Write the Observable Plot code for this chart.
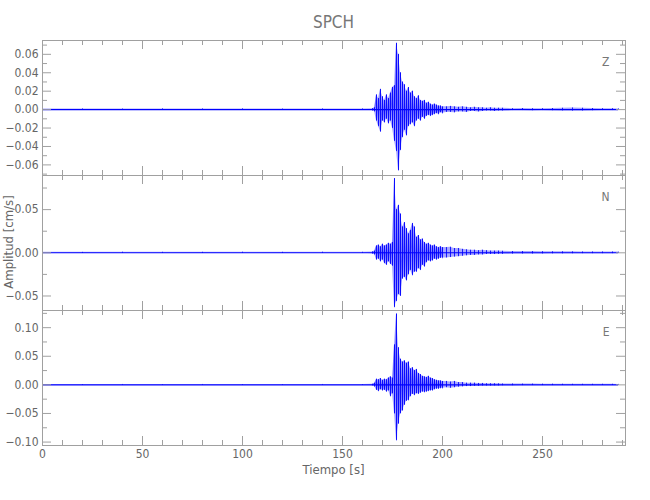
<!DOCTYPE html>
<html><head><meta charset="utf-8">
<script src="https://cdn.jsdelivr.net/npm/d3@7"></script>
<script src="https://cdn.jsdelivr.net/npm/@observablehq/plot@0.6"></script>
<style>
body{margin:0;background:#fff;}
#chart{position:relative;width:650px;height:500px;font-family:"Liberation Sans Narrow","DejaVu Sans Condensed",sans-serif;color:#666;}
.panel{position:absolute;left:0;}
#title{position:absolute;top:12px;left:42px;width:583px;text-align:center;font-size:17px;color:#777;}
#xlabel{position:absolute;top:462px;left:42px;width:583px;text-align:center;font-size:13px;}
#ylabel{position:absolute;left:8px;top:242px;transform:translate(-50%,-50%) rotate(-90deg);font-size:13px;white-space:nowrap;}
</style></head>
<body>
<div id="chart">
  <div id="title">SPCH</div>
  <div id="ylabel">Amplitud [cm/s]</div>
  <div id="xlabel">Tiempo [s]</div>
</div>
<script>
// Sample times (s) of the envelope peaks
const T = [0,20,40,60,80,100,120,140,160,
  165,166,167,168,169,170,171,172,173,174,175,176,177,178,179,180,181,182,183,184,185,186,187,188,189,190,191,192,193,194,195,196,197,198,199,200,
  202,204,206,208,210,212,214,216,218,220,222,224,226,228,230,
  235,240,245,250,255,260,265,270,275,280,285,288];

// Z component: positive / negative peaks (cm/s)
const zMax = [0.0006,0.0007,0.0006,0.0008,0.0007,0.0008,0.0006,0.0007,0.0007,
  0.001,0.002,0.016,0.012,0.022,0.014,0.010,0.016,0.012,0.018,0.024,0.026,0.072,0.060,0.040,0.030,0.027,0.020,0.024,0.018,0.020,0.014,0.012,0.015,0.010,0.009,0.010,0.007,0.008,0.006,0.005,0.006,0.005,0.004,0.004,0.003,
  0.003,0.0035,0.003,0.0025,0.003,0.0025,0.002,0.0025,0.002,0.002,0.0015,0.002,0.0015,0.0015,0.0015,
  0.001,0.0012,0.001,0.001,0.0012,0.0015,0.0018,0.0015,0.0012,0.001,0.001,0.0008];
const zMin = [-0.0006,-0.0006,-0.0007,-0.0007,-0.0006,-0.0008,-0.0007,-0.0006,-0.0007,
  -0.001,-0.002,-0.012,-0.018,-0.024,-0.012,-0.014,-0.010,-0.015,-0.012,-0.020,-0.034,-0.045,-0.066,-0.044,-0.030,-0.022,-0.028,-0.018,-0.016,-0.014,-0.018,-0.012,-0.010,-0.012,-0.008,-0.010,-0.007,-0.006,-0.007,-0.006,-0.005,-0.004,-0.005,-0.003,-0.004,
  -0.003,-0.003,-0.0035,-0.0025,-0.0025,-0.003,-0.002,-0.002,-0.0025,-0.002,-0.0015,-0.0015,-0.002,-0.0015,-0.0015,
  -0.001,-0.001,-0.0012,-0.001,-0.0012,-0.0014,-0.0016,-0.0015,-0.0012,-0.001,-0.001,-0.0008];

// N component
const nMax = [0.0006,0.0005,0.0007,0.0006,0.0006,0.0007,0.0006,0.0007,0.0006,
  0.001,0.002,0.008,0.009,0.007,0.010,0.008,0.009,0.011,0.010,0.012,0.086,0.050,0.055,0.045,0.030,0.035,0.028,0.022,0.026,0.034,0.030,0.018,0.020,0.015,0.016,0.012,0.010,0.011,0.009,0.008,0.009,0.007,0.006,0.007,0.006,
  0.006,0.0065,0.005,0.005,0.004,0.0035,0.003,0.003,0.0025,0.003,0.0025,0.002,0.002,0.002,0.0018,
  0.0015,0.0015,0.0014,0.0013,0.0012,0.0012,0.0011,0.001,0.001,0.001,0.001,0.0008];
const nMin = [-0.0006,-0.0007,-0.0006,-0.0006,-0.0007,-0.0006,-0.0007,-0.0006,-0.0006,
  -0.001,-0.002,-0.008,-0.007,-0.010,-0.008,-0.012,-0.014,-0.010,-0.013,-0.015,-0.063,-0.056,-0.048,-0.050,-0.030,-0.028,-0.032,-0.025,-0.020,-0.026,-0.022,-0.022,-0.018,-0.020,-0.014,-0.016,-0.011,-0.009,-0.010,-0.009,-0.007,-0.008,-0.007,-0.006,-0.006,
  -0.006,-0.0055,-0.005,-0.0045,-0.004,-0.0035,-0.003,-0.003,-0.0025,-0.0025,-0.002,-0.002,-0.002,-0.0018,-0.0018,
  -0.0015,-0.0014,-0.0014,-0.0013,-0.0012,-0.0012,-0.0011,-0.001,-0.001,-0.001,-0.001,-0.0008];

// E component
const eMax = [0.0006,0.0006,0.0007,0.0006,0.0007,0.0006,0.0006,0.0007,0.0006,
  0.001,0.003,0.010,0.009,0.011,0.008,0.010,0.009,0.012,0.014,0.012,0.070,0.124,0.065,0.045,0.040,0.042,0.038,0.040,0.028,0.030,0.025,0.027,0.020,0.018,0.015,0.014,0.013,0.015,0.012,0.011,0.009,0.008,0.007,0.007,0.006,
  0.006,0.005,0.006,0.004,0.004,0.003,0.003,0.003,0.0025,0.0025,0.002,0.002,0.002,0.0018,0.0015,
  0.0015,0.0013,0.0013,0.0012,0.0012,0.0011,0.001,0.001,0.001,0.001,0.001,0.0008];
const eMin = [-0.0006,-0.0007,-0.0006,-0.0006,-0.0006,-0.0007,-0.0006,-0.0006,-0.0007,
  -0.001,-0.003,-0.009,-0.011,-0.008,-0.010,-0.009,-0.012,-0.010,-0.020,-0.015,-0.050,-0.097,-0.068,-0.050,-0.045,-0.035,-0.028,-0.027,-0.020,-0.016,-0.018,-0.015,-0.016,-0.014,-0.012,-0.013,-0.012,-0.011,-0.010,-0.010,-0.008,-0.007,-0.007,-0.006,-0.006,
  -0.005,-0.006,-0.005,-0.004,-0.0035,-0.003,-0.003,-0.0025,-0.0025,-0.002,-0.002,-0.002,-0.0018,-0.0018,-0.0015,
  -0.0014,-0.0013,-0.0012,-0.0012,-0.0012,-0.0011,-0.001,-0.001,-0.001,-0.001,-0.001,-0.0008];

// Axis ticks
const xMajor = [0,50,100,150,200,250];
const xMinor = [10,20,30,40,60,70,80,90,110,120,130,140,160,170,180,190,210,220,230,240,260,270,280,290];
const zMajorY = [-0.06,-0.04,-0.02,0,0.02,0.04,0.06];
const zMinorY = [-0.07,-0.05,-0.03,-0.01,0.01,0.03,0.05,0.07];
const nMajorY = [-0.05,0,0.05];
const nMinorY = [-0.025,0.025,0.075];
const eMajorY = [-0.10,-0.05,0,0.05,0.10];
const eMinorY = [-0.075,-0.025,0.025,0.075,0.125];

const xDomain = [0, 291.5];
const zDomain = [-0.0715, 0.075];
const nDomain = [-0.0668, 0.0895];
const eDomain = [-0.106, 0.130];

const ML = 42, MR = 25, WIDTH = 650, H = 135, W = WIDTH - ML - MR;
const frameColor = "#a0a0a0";

function panel(label, maxArr, minArr, yDomain, majorY, minorY, top, showX) {
  const rows = T.map((t, i) => ({t, hi: maxArr[i], lo: minArr[i]}));
  const swing = rows.filter(d => d.t >= 165 && d.t <= 200)
    .flatMap(d => [{t: d.t, v: d.hi}, {t: d.t, v: d.lo}]);
  const marks = [
    Plot.areaY(rows, {x: "t", y1: "lo", y2: "hi", fill: "#0000ff", fillOpacity: 0.35}),
    Plot.ruleY([0], {x1: T[0], x2: T[T.length - 1], stroke: "#0000ff", strokeWidth: 1.1}),
    Plot.ruleX(rows, {x: "t", y1: "lo", y2: "hi", stroke: "#0000ff", strokeWidth: 1, strokeOpacity: 0.85}),
    Plot.line(swing, {x: "t", y: "v", stroke: "#0000ff", strokeWidth: 0.6, strokeOpacity: 0.7}),
    Plot.tickY(majorY, {y: d => d, stroke: frameColor, insetRight: W - 9}),
    Plot.tickY(majorY, {y: d => d, stroke: frameColor, insetLeft: W - 9}),
    Plot.tickY(minorY, {y: d => d, stroke: frameColor, insetRight: W - 5}),
    Plot.tickY(minorY, {y: d => d, stroke: frameColor, insetLeft: W - 5}),
    Plot.tickX(xMajor, {x: d => d, stroke: frameColor, insetBottom: H - 9}),
    Plot.tickX(xMajor, {x: d => d, stroke: frameColor, insetTop: H - 9}),
    Plot.tickX(xMinor, {x: d => d, stroke: frameColor, insetBottom: H - 5}),
    Plot.tickX(xMinor, {x: d => d, stroke: frameColor, insetTop: H - 5}),
    Plot.axisY(majorY, {anchor: "left", tickSize: 0, tickPadding: 4, tickFormat: d3.format(".2f"), label: null, fontSize: 12}),
    Plot.frame({stroke: frameColor}),
    Plot.text([label], {text: d => d, frameAnchor: "top-right", dx: -16, dy: 17, fontSize: 12, fill: "#777"})
  ];
  if (showX) marks.push(Plot.axisX(xMajor, {anchor: "bottom", tickSize: 0, tickPadding: 4, label: null, fontSize: 12}));
  const svg = Plot.plot({
    width: WIDTH, height: H + (showX ? 30 : 0),
    marginLeft: ML, marginRight: MR, marginTop: 0, marginBottom: showX ? 30 : 0,
    x: {domain: xDomain, ...(showX ? {} : {axis: null})},
    y: {domain: yDomain},
    style: {fontFamily: '"Liberation Sans Narrow","DejaVu Sans Condensed",sans-serif', fontSize: "12px", color: "#666", background: "transparent", overflow: "visible"},
    marks
  });
  svg.classList.add("panel");
  svg.style.position = "absolute";
  svg.style.top = top + "px";
  svg.style.left = "0px";
  document.getElementById("chart").appendChild(svg);
}

panel("Z", zMax, zMin, zDomain, zMajorY, zMinorY, 40, false);
panel("N", nMax, nMin, nDomain, nMajorY, nMinorY, 175, false);
panel("E", eMax, eMin, eDomain, eMajorY, eMinorY, 310, true);
</script>
</body></html>
